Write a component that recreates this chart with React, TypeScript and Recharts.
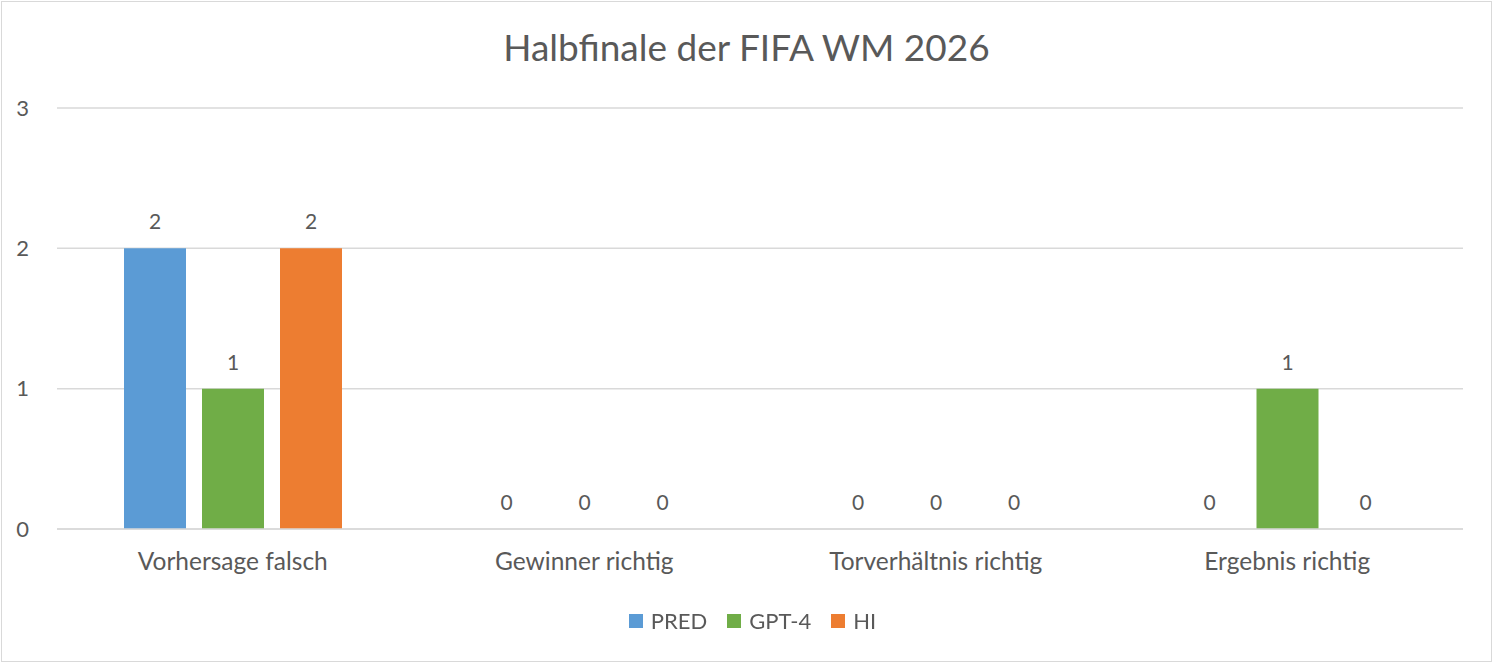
import { BarChart, Bar, XAxis, YAxis, CartesianGrid, Legend, LabelList } from "recharts";

const categories = ["Vorhersage falsch", "Gewinner richtig", "Torverhältnis richtig", "Ergebnis richtig"];
const predValues = [2, 0, 0, 0];
const gptValues = [1, 0, 0, 1];
const hiValues = [2, 0, 0, 0];
const yTicks = [0, 1, 2, 3];

const seriesList = [
  { key: "PRED", color: "#5B9BD5" },
  { key: "GPT-4", color: "#70AD47" },
  { key: "HI", color: "#ED7D31" },
];

const chartData = categories.map((name, i) => ({
  name,
  PRED: predValues[i],
  "GPT-4": gptValues[i],
  HI: hiValues[i],
}));

const TEXT = "#595959";
const FONT = "Lato, 'Open Sans', sans-serif";

// legend built straight from the series list so order stays PRED, GPT-4, HI
const LegendContent = () => (
  <div style={{ display: "flex", justifyContent: "center", alignItems: "center", fontFamily: FONT, fontSize: 22, color: TEXT }}>
    {seriesList.map((s) => (
      <div key={s.key} style={{ display: "flex", alignItems: "center", margin: "0 10px" }}>
        <span style={{ width: 14, height: 14, background: s.color, display: "inline-block", marginRight: 8 }} />
        <span>{s.key}</span>
      </div>
    ))}
  </div>
);

const renderValue = (props: any) => {
  const { x, y, width, value } = props;
  return (
    <text
      x={Number(x) + Number(width) / 2}
      y={Number(y) - 19}
      textAnchor="middle"
      fill={TEXT}
      style={{ fontSize: 21, fontFamily: FONT }}
    >
      {value}
    </text>
  );
};

export default function App() {
  return (
    <div style={{ position: "fixed", left: 0, top: 0, width: 1493, height: 663, background: "#fff" }}>
      <div
        style={{
          position: "absolute",
          left: 1,
          top: 1,
          width: 1491,
          height: 661,
          border: "1px solid #d9d9d9",
          boxSizing: "border-box",
          pointerEvents: "none",
        }}
      />
      <div
        style={{
          position: "absolute",
          left: 0,
          top: 26,
          width: 1493,
          textAlign: "center",
          fontFamily: FONT,
          fontSize: 37,
          color: TEXT,
          lineHeight: "42px",
        }}
      >
        Halbfinale der FIFA WM 2026
      </div>
      <BarChart
        width={1493}
        height={663}
        data={chartData}
        margin={{ top: 108, right: 30, left: 0, bottom: 0 }}
        barSize={62}
        barGap={16}
      >
        <CartesianGrid stroke="#d9d9d9" strokeWidth={1.5} vertical={false} />
        <XAxis
          dataKey="name"
          height={134}
          axisLine={{ stroke: "#d9d9d9", strokeWidth: 1.5 }}
          tickLine={false}
          tickMargin={18}
          interval={0}
          tick={{ fill: TEXT, fontSize: 24.5, fontFamily: FONT }}
        />
        <YAxis
          width={57}
          domain={[0, 3]}
          ticks={yTicks}
          axisLine={false}
          tickLine={false}
          tickMargin={22}
          tick={{ fill: TEXT, fontSize: 22, fontFamily: FONT }}
        />
        <Legend
          layout="horizontal"
          verticalAlign="middle"
          align="center"
          wrapperStyle={{ top: 607, left: 6, width: 1493 }}
          content={<LegendContent />}
        />
        {seriesList.map((s) => (
          <Bar key={s.key} dataKey={s.key} fill={s.color} minPointSize={0.01} isAnimationActive={false}>
            <LabelList dataKey={s.key} content={renderValue} />
          </Bar>
        ))}
      </BarChart>
    </div>
  );
}
